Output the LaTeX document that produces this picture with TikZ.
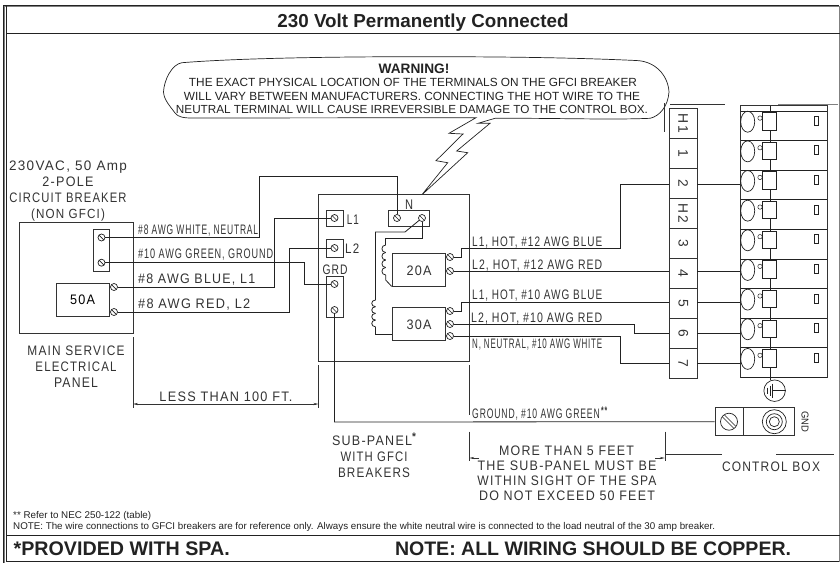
\documentclass[tikz,border=0pt]{standalone}
\usepackage{graphicx}
\usepackage{fontspec}
\usetikzlibrary{arrows.meta,shapes.geometric}
\setmainfont{Liberation Sans}
\newfontfamily\cad[LetterSpace=10]{Liberation Sans}
\definecolor{ink}{HTML}{222222}
\definecolor{cadink}{HTML}{333333}
\newcommand\fw[2]{\resizebox{#1pt}{9.6pt}{\cad #2}}
\newcommand\fa[2]{\resizebox{#1pt}{!}{#2}}
\tikzset{
  frame/.style={draw=ink,line width=1pt},
  part/.style={draw=cadink,line width=0.8pt,fill=white,inner sep=0pt},
  wire/.style={draw=ink,line width=0.8pt},
  thinl/.style={draw=cadink,line width=0.6pt},
  screw/.style={circle,draw=ink,line width=0.7pt,fill=white,inner sep=0pt,minimum size=7pt,
    path picture={\draw[ink,line width=0.7pt] (path picture bounding box.north west) -- (path picture bounding box.south east);}},
  cadc/.style={inner sep=0pt,anchor=base,text=cadink},
  cadl/.style={inner sep=0pt,anchor=base west,text=cadink},
  arial/.style={inner sep=0pt,anchor=base,text=ink},
  ariall/.style={inner sep=0pt,anchor=base west,text=ink},
  dim/.style={draw=cadink,line width=0.6pt,-{Stealth[length=5pt,width=2.2pt]}},
  cell/.style={draw=cadink,line width=0.8pt,fill=white,minimum width=27.5pt,minimum height=29.9pt,inner sep=0pt,text=cadink},
  brkc/.style={ellipse,draw=ink,line width=0.7pt,minimum width=14pt,minimum height=21pt,inner sep=0pt},
  brks/.style={draw=ink,line width=0.7pt,fill=white,minimum width=14pt,minimum height=17.5pt,inner sep=0pt},
  brkm/.style={draw=ink,line width=0.6pt,minimum width=4.2pt,minimum height=9pt,inner sep=0pt},
  brko/.style={circle,draw=ink,line width=0.5pt,minimum size=4.4pt,inner sep=0pt},
}
\begin{document}
\begin{tikzpicture}[x=1pt,y=-1pt]
\useasboundingbox (0,0) rectangle (840,563);
% frame
\draw[frame] (839,5) -- (3.5,5) -- (3.5,563);
\draw[draw=gray,line width=1pt] (3.5,6.6) -- (839,6.6);
\draw[draw=gray,line width=1pt] (4.2,6) -- (4.2,563);
\draw[frame] (6.8,6) -- (6.8,561.7) -- (839,561.7);
\draw[draw=gray,line width=1pt] (839.3,6) -- (839.3,561.7);
\draw[frame] (6.8,33) -- (840,33);
\draw[frame] (6.8,535) -- (840,535);
\node[arial] (title) at (423,27) {\fa{291}{\bfseries 230 Volt Permanently Connected}};
\node[ariall] (prov) at (13.5,555) {\fa{216}{\bfseries *PROVIDED WITH SPA.}};
\node[ariall] (copper) at (394.8,555) {\fa{396}{\bfseries NOTE: ALL WIRING SHOULD BE COPPER.}};
\node[ariall] (nec) at (13,518) {\fa{138}{** Refer to NEC 250-122 (table)}};
\node[ariall] (note) at (13,529.3) {\fa{702}{NOTE: The wire connections to GFCI breakers are for reference only. Always ensure the white neutral wire is connected to the load neutral of the 30 amp breaker.}};
% balloon and bolt
\draw[draw=ink,line width=0.7pt,line join=miter]
  (476,117.7) -- (449,133.3) -- (463,134) -- (436,160.7) -- (447.7,162.7) -- (421.7,195)
  -- (467.7,152.7) -- (456.7,151) -- (490,123.3) -- (478,123.3) -- (495,118.3)
  .. controls (560,118) and (610,120) .. (650,118.3)
  .. controls (660,116) and (668,106) .. (669,92)
  .. controls (668,75) and (655,61) .. (636,60.5)
  .. controls (560,57) and (480,56.7) .. (417,56.7)
  .. controls (340,56.7) and (240,58) .. (182,62.7)
  .. controls (172,64) and (164,80) .. (163.5,92)
  .. controls (164,100) and (170,106) .. (175,113)
  .. controls (178,117) and (184,118) .. (190,118)
  -- cycle;
\node[arial] (warn) at (414,73) {\fa{70.7}{\bfseries WARNING!}};
\node[arial] (w1) at (413,86.7) {\fa{448}{THE EXACT PHYSICAL LOCATION  OF THE TERMINALS ON THE GFCI BREAKER}};
\node[arial] (w2) at (412,100) {\fa{456}{WILL VARY BETWEEN MANUFACTURERS.  CONNECTING THE HOT WIRE TO THE}};
\node[arial] (w3) at (412,113.5) {\fa{472}{NEUTRAL TERMINAL WILL CAUSE IRREVERSIBLE DAMAGE TO THE CONTROL BOX.}};
% stray drawing lines
\draw[thinl] (664.5,103) -- (664.5,131.5);
\draw[thinl] (670,104) -- (725,104);
\draw[draw=gray,line width=1.4pt] (778,104.5) -- (838,104.5);
% main panel
\node[part,minimum width=113.5pt,minimum height=111pt] (mainp) at (76.25,277.5) {};
\node[part,minimum width=16pt,minimum height=42pt] (mstrip) at (101,250) {};
\node[screw] (ms1) at (101.5,237.5) {};
\node[screw] (ms2) at (101.5,262.7) {};
\node[part,minimum width=53pt,minimum height=33pt] (b50) at (82.5,299.5) {\fw{25}{50A}};
\node[screw] (ms3) at (114,287) {};
\node[screw] (ms4) at (114,312) {};
\node[cadc] (a1) at (68,170) {\fw{118}{230VAC, 50 Amp}};
\node[cadc] (a2) at (68,186) {\fw{51}{2-POLE}};
\node[cadc] (a3) at (68,202) {\fw{117}{CIRCUIT BREAKER}};
\node[cadc] (a4) at (68,218) {\fw{74}{(NON GFCI)}};
\node[cadc] (m1) at (76,355) {\fw{97}{MAIN SERVICE}};
\node[cadc] (m2) at (76,371) {\fw{81}{ELECTRICAL}};
\node[cadc] (m3) at (76,387) {\fw{44}{PANEL}};
\node[cadl] (l1) at (138,234) {\fw{120}{\#8 AWG WHITE, NEUTRAL}};
\node[cadl] (l2) at (138,258.5) {\fw{135}{\#10 AWG GREEN, GROUND}};
\node[cadl] (l3) at (138,283) {\fw{117}{\#8 AWG BLUE, L1}};
\node[cadl] (l4) at (138,308.5) {\fw{112}{\#8 AWG RED, L2}};
% sub panel
\node[part,minimum width=150.5pt,minimum height=167pt] (subp) at (393.75,277.5) {};
\node[part,minimum width=16.4pt,minimum height=16.5pt] (bl1) at (334.9,218.2) {};
\node[part,minimum width=16.4pt,minimum height=18pt] (bl2) at (334.9,248) {};
\node[part,minimum width=16.4pt,minimum height=40.3pt] (bgr) at (334.9,296.8) {};
\node[part,minimum width=41pt,minimum height=16pt] (bn) at (408.5,218) {};
\node[screw] (sl1) at (334.5,218) {};
\node[screw] (sl2) at (334.5,248) {};
\node[screw] (sg1) at (334.5,284) {};
\node[screw] (sg2) at (334.5,310) {};
\node[screw] (sn1) at (397,218) {};
\node[screw] (sn2) at (422,218) {};
\node[cadl] (tl1) at (346.7,224) {\fw{12}{L1}};
\node[cadl] (tl2) at (345,253) {\fw{14}{L2}};
\node[cadc] (tg) at (335,274) {\fw{25}{GRD}};
\node[cadc] (tn) at (409,209) {\fw{8}{N}};
\node[part,minimum width=53.7pt,minimum height=33pt] (b20) at (418.9,269.5) {};
\node[part,minimum width=53.7pt,minimum height=33pt] (b30) at (418.9,323.5) {};
\node[cadc] (t20) at (419,275) {\fw{25}{20A}};
\node[cadc] (t30) at (419,329) {\fw{25}{30A}};
\node[screw] (s20a) at (450,257) {};
\node[screw] (s20b) at (450,271) {};
\node[screw] (s30a) at (450,311) {};
\node[screw] (s30b) at (450,324) {};
\node[screw] (s30c) at (450,336) {};
% sub panel internal wires and coils
\draw[wire] (sn2) -- (422,238) -- (385.7,238) -- (385.7,245);
\foreach \yy in {245,252.5,260,267.5}
  \draw[wire] (385.7,\yy) .. controls (380.7,\yy) and (380.7,\yy+7.5) .. (385.7,\yy+7.5);
\draw[wire] (385.7,275) -- (385.7,280) -- (b20.south west);
\draw[wire] (sn2) -- (405,232) -- (375.5,232) -- (375.5,300);
\foreach \yy in {300,306.7,313.4,320.1}
  \draw[wire] (375.5,\yy) .. controls (370.5,\yy) and (370.5,\yy+6.7) .. (375.5,\yy+6.7);
\draw[wire] (375.5,326.8) -- (375.5,334) -- (392,334);
% wire labels right
\node[cadl] (r1) at (472,246) {\fw{130}{L1, HOT, \#12 AWG BLUE}};
\node[cadl] (r2) at (472,269.5) {\fw{130}{L2, HOT, \#12 AWG RED}};
\node[cadl] (r3) at (472,299) {\fw{130}{L1, HOT, \#10 AWG BLUE}};
\node[cadl] (r4) at (471,322) {\fw{131}{L2, HOT, \#10 AWG RED}};
\node[cadl] (r5) at (472,348) {\fw{130}{N, NEUTRAL, \#10 AWG WHITE}};
\node[cadl] (r6) at (472,418) {\fw{135}{GROUND, \#10 AWG GREEN\,\smash{\raisebox{2.5pt}{\bfseries\footnotesize **}}}};
% terminal strip
\foreach \nm/\txt/\yy in {th1/H1/123.3,t1/1/153.2,t2/2/183.5,th2/H2/213.4,t3/3/243.3,t4/4/273.4,t5/5/303.4,t6/6/333.4,t7/7/363.3}
  \node[cell] (\nm) at (683.25,\yy) {\rotatebox{-90}{\resizebox{!}{9.6pt}{\cad \txt}}};
% control breakers
\draw[draw=ink,line width=0.8pt] (770.5,105.7) -- (770.5,380);
\draw[draw=cadink,line width=0.8pt] (740.5,105.7) rectangle (827.3,377.4);
\foreach \i in {0,...,9}
  \draw[draw=ink,line width=1pt] (740.5,111+29.6*\i) -- (827.3,111+29.6*\i);
\foreach \i/\nm in {0/c1,1/c2,2/c3,3/c4,4/c5,5/c6,6/c7,7/c8,8/c9}{
  \pgfmathsetmacro\yc{121.7+29.65*\i}
  \node[brkc] (\nm) at (747.7,\yc) {};
  \node[brks] (\nm s) at (769.4,\yc-0.6) {};
  \node[brko] (\nm o) at (760,\yc-3.6) {};
  \node[brkm] (\nm m) at (816.5,\yc-1.2) {};
}
% ground symbol
\node[circle,draw=ink,line width=0.7pt,minimum size=21.5pt,inner sep=0pt] (gs) at (774.6,390.7) {};
\draw[draw=ink,line width=0.7pt] (gs.center) ++(-1.9,0) -- (gs.east);
\draw[draw=ink,line width=0.7pt] (772.7,383.7) -- (772.7,397.7) (770,385.7) -- (770,395.7) (767.6,387.7) -- (767.6,393.7);
% control box
\node[part,minimum width=79pt,minimum height=28.5pt] (cbox) at (754.5,421.5) {};
\draw[draw=cadink,line width=0.8pt] (743.8,407.3) -- (743.8,435.7);
\node[circle,draw=ink,line width=0.7pt,minimum size=17pt,inner sep=0pt] (cs) at (729,421.7) {};
\draw[draw=ink,line width=0.7pt] (724.5,415) -- (735.5,426) (722.5,417) -- (733.5,428);
\node[circle,draw=ink,line width=0.7pt,minimum size=24pt,inner sep=0pt] (tg1) at (774.3,421.7) {};
\node[circle,draw=ink,line width=0.7pt,minimum size=16pt,inner sep=0pt] (tg2) at (774.3,421.7) {};
\node[circle,draw=ink,line width=0.7pt,minimum size=10pt,inner sep=0pt] (tg3) at (774.3,421.7) {};
\node[inner sep=0pt,text=ink] (gnd) at (805,421.5) {\rotatebox{-90}{\resizebox{21pt}{7pt}{GND}}};
% main wires
\draw[wire] (ms1) -- (259.5,237.5) -- (259.5,176) -- (397,176) -- (sn1);
\draw[wire] (ms2) -- (304,262.7) -- (304,284) -- (sg1);
\draw[wire] (ms3) -- (274.7,287) -- (274.7,218) -- (sl1);
\draw[wire] (ms4) -- (289,312) -- (289,248) -- (sl2);
\draw[wire] (sg2) -- (334.5,422) -- (cbox.west |- cs);
\draw[wire] (s20a) -- (461,257) -- (461,248) -- (620.7,248) -- (620.7,184.3) -- (t2.west |- 0,184.3);
\draw[wire] (s20b) -- (t4.west |- s20b);
\draw[wire] (s30a) -- (461,311) -- (461,302.5) -- (t5.west |- 0,302.5);
\draw[wire] (s30b) -- (634,324) -- (634,333.5) -- (t6.west |- 0,333.5);
\draw[wire] (s30c) -- (620.7,336) -- (620.7,363.3) -- (t7);
\draw[wire] (t2.east |- 0,184.3) -- (c3.west |- 0,184.3);
\draw[wire] (t4.east |- s20b) -- (c6.west |- s20b);
\draw[wire] (t5.east |- 0,302.5) -- (c7.west |- 0,302.5);
\draw[wire] (t6.east |- 0,333.5) -- (c8.west |- 0,333.5);
\draw[wire] (t7) -- (c9.west |- t7);
% dimensions
\draw[thinl] (133,337) -- (133,408);
\draw[thinl] (318.5,365) -- (318.5,408);
\coordinate (dl) at (133,404);
\coordinate (dr) at (318.5,404);
\draw[dim,{Stealth[length=5pt,width=2.2pt]}-{Stealth[length=5pt,width=2.2pt]}] (dl) -- (dr);
\node[cadc] (lt) at (226,401.5) {\fw{133}{LESS THAN 100 FT.}};
\draw[thinl] (469.3,365) -- (469.3,415);
\draw[thinl] (469.3,431.7) -- (469.3,461);
\draw[thinl] (664.8,431.7) -- (664.8,461);
\coordinate (d5l) at (469.3,458);
\coordinate (d5r) at (664.8,458);
\draw[dim] (479,458) -- (d5l);
\draw[dim] (655,458) -- (d5r);
\draw[thinl] (664.8,454.3) -- (722,454.3);
\draw[thinl] (776,454.3) -- (834,454.3);
\node[cadc] (f1) at (566.5,455) {\fw{135}{MORE THAN 5 FEET}};
\node[cadc] (f2) at (567,470.5) {\fw{179}{THE SUB-PANEL MUST BE}};
\node[cadc] (f3) at (567,485) {\fw{179}{WITHIN SIGHT OF THE SPA}};
\node[cadc] (f4) at (567,500.5) {\fw{176}{DO NOT EXCEED 50 FEET}};
\node[cadc] (cb) at (771,471.5) {\fw{98}{CONTROL BOX}};
\node[cadc] (sp1) at (374,445) {\fw{84}{SUB-PANEL\smash{\raisebox{3pt}{\bfseries\footnotesize *}}}};
\node[cadc] (sp2) at (374,461) {\fw{67}{WITH GFCI}};
\node[cadc] (sp3) at (374,477) {\fw{72}{BREAKERS}};
\end{tikzpicture}
\end{document}
